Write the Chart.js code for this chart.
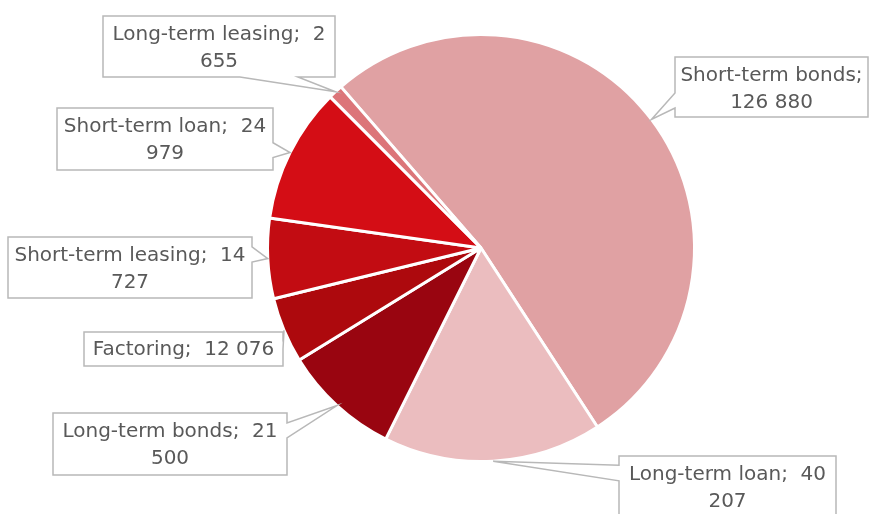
<!DOCTYPE html>
<html>
<head>
<meta charset="utf-8">
<script src="https://cdn.jsdelivr.net/npm/chart.js@4"></script>
<style>
  html, body { margin: 0; padding: 0; background: #fff; }
  #wrap { width: 869px; height: 514px; }
</style>
</head>
<body>
<div id="wrap"><canvas id="grafica" width="869" height="514"></canvas></div>
<script>
const categorias = ["Short-term bonds", "Long-term loan", "Long-term bonds", "Factoring",
  "Short-term leasing", "Short-term loan", "Long-term leasing"];
const valores = [126880, 40207, 21500, 12076, 14727, 24979, 2655];
const colores = ["#e0a1a3", "#ebbdbf", "#990510", "#ad090d", "#c20c12", "#d40d15", "#dc7579"];

// callout boxes: x, y, w, h, side of the pointer, base span (fraction of side), words on line 1
const cajas = [
  { x: 675, y: 57, w: 193, h: 60, lado: "left", base: [0.6, 0.85], n: 1 },
  { x: 619, y: 456, w: 217, h: 62, lado: "left", base: [0.15, 0.4], n: 2 },
  { x: 53, y: 413, w: 234, h: 62, lado: "right", base: [0.16, 0.4], n: 2 },
  { x: 84, y: 332, w: 199, h: 34, lado: "right", base: [0.1, 0.5], n: 3 },
  { x: 8, y: 237, w: 244, h: 61, lado: "right", base: [0.16, 0.41], n: 2 },
  { x: 57, y: 108, w: 216, h: 62, lado: "right", base: [0.56, 0.8], n: 2 },
  { x: 103, y: 16, w: 232, h: 61, lado: "bottom", base: [0.59, 0.84], n: 2 },
];

const fuente = '20px "DejaVu Sans"';

function formatear(v) {
  return String(v).replace(/\B(?=(\d{3})+(?!\d))/g, " ");
}

function lineas(i) {
  const partes = [categorias[i] + ";"].concat(formatear(valores[i]).split(" "));
  const n = cajas[i].n;
  let l1 = partes[0];
  if (n > 1) l1 += "  " + partes.slice(1, n).join(" ");
  const resto = partes.slice(n).join(" ");
  return resto ? [l1, resto] : [l1];
}

const callouts = {
  id: "callouts",
  afterDraw(chart) {
    const ctx = chart.ctx;
    const arcs = chart.getDatasetMeta(0).data;
    ctx.save();
    arcs.forEach((arc, i) => {
      const c = cajas[i];
      const mid = (arc.startAngle + arc.endAngle) / 2;
      const tx = arc.x + Math.cos(mid) * arc.outerRadius;
      const ty = arc.y + Math.sin(mid) * arc.outerRadius;
      const x0 = c.x, y0 = c.y, x1 = c.x + c.w, y1 = c.y + c.h;
      ctx.beginPath();
      ctx.moveTo(x0, y0);
      ctx.lineTo(x1, y0);
      if (c.lado === "right") {
        ctx.lineTo(x1, y0 + c.h * c.base[0]);
        ctx.lineTo(tx, ty);
        ctx.lineTo(x1, y0 + c.h * c.base[1]);
      }
      ctx.lineTo(x1, y1);
      if (c.lado === "bottom") {
        ctx.lineTo(x0 + c.w * c.base[1], y1);
        ctx.lineTo(tx, ty);
        ctx.lineTo(x0 + c.w * c.base[0], y1);
      }
      ctx.lineTo(x0, y1);
      if (c.lado === "left") {
        ctx.lineTo(x0, y0 + c.h * c.base[1]);
        ctx.lineTo(tx, ty);
        ctx.lineTo(x0, y0 + c.h * c.base[0]);
      }
      ctx.closePath();
      ctx.fillStyle = "#ffffff";
      ctx.fill();
      ctx.lineWidth = 1.5;
      ctx.strokeStyle = "#b8b8b8";
      ctx.stroke();

      const ls = lineas(i);
      ctx.fillStyle = "#595959";
      ctx.font = fuente;
      ctx.textAlign = "center";
      ctx.textBaseline = "middle";
      const cx = x0 + c.w / 2;
      if (ls.length === 1) {
        ctx.fillText(ls[0], cx, y0 + c.h / 2 + 1);
      } else {
        ctx.fillText(ls[0], cx, y0 + 19);
        ctx.fillText(ls[1], cx, y0 + 46);
      }
    });
    ctx.restore();
  },
};

new Chart(document.getElementById("grafica").getContext("2d"), {
  type: "pie",
  data: {
    labels: categorias,
    datasets: [
      {
        data: valores,
        backgroundColor: colores,
        borderColor: "#ffffff",
        borderWidth: 3,
      },
    ],
  },
  options: {
    responsive: false,
    animation: false,
    rotation: -41,
    layout: { padding: { top: 33, bottom: 51, left: 93, right: 0 } },
    plugins: {
      legend: { display: false },
      tooltip: { enabled: false },
    },
  },
  plugins: [callouts],
});
</script>
</body>
</html>
